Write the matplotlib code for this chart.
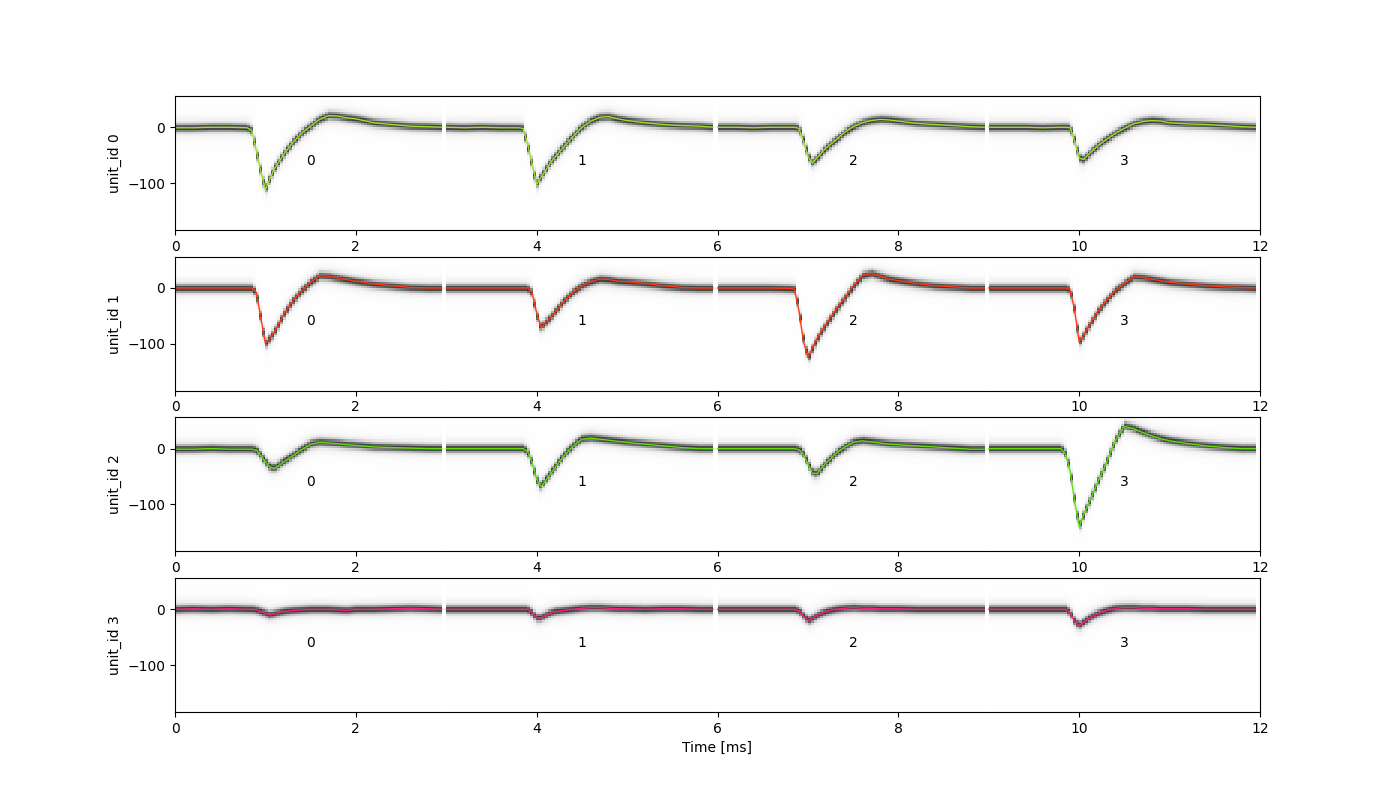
import numpy as np
import matplotlib.pyplot as plt

# sample times inside one channel snippet (ms)
times = [0, 0.2, 0.4, 0.6, 0.8, 0.85, 0.9, 0.95, 1.0, 1.05, 1.1, 1.15, 1.2,
         1.3, 1.4, 1.5, 1.6, 1.7, 1.8, 1.9, 2.0, 2.2, 2.4, 2.6, 2.8, 2.95]

unit_ids = [0, 1, 2, 3]
channel_ids = [0, 1, 2, 3]
unit_colors = ['#9be22d', '#ff3a12', '#5ee010', '#ff1f7f']

# templates in uV, one list per channel
unit0 = [
    [-1, -1, 0, 0, -1, -6, -42, -80, -112, -92, -74, -62, -49, -28, -11, 2, 14, 21, 20, 17, 15, 8, 5, 2, 1, 0],
    [0, -1, 0, -1, -1, -2, -30, -66, -102, -89, -77, -64, -54, -35, -17, 0, 11, 18, 19, 15, 12, 8, 5, 3, 2, 0],
    [0, 0, -1, 0, 0, 0, -2, -25, -52, -64, -55, -46, -37, -24, -10, 1, 8, 12, 14, 13, 11, 7, 5, 3, 1, 0],
    [0, 0, 0, -1, 0, 0, -1, -25, -55, -58, -49, -42, -34, -22, -11, -2, 6, 10, 12, 11, 8, 6, 5, 3, 1, 0],
]
unit1 = [
    [0, 0, 0, 0, 0, 0, -8, -54, -100, -90, -79, -64, -48, -24, -5, 10, 22, 21, 18, 15, 12, 7, 4, 1, 0, 0],
    [0, 0, 0, 0, 0, 0, 0, -8, -45, -71, -62, -54, -44, -24, -8, 4, 11, 16, 15, 12, 11, 8, 4, 1, 0, 0],
    [0, 0, 0, 0, -1, -2, -40, -95, -125, -107, -91, -77, -65, -41, -19, 3, 22, 26, 21, 16, 13, 8, 4, 2, 0, 0],
    [0, 0, 0, 0, 0, 0, -3, -40, -97, -84, -70, -57, -43, -23, -4, 8, 20, 19, 16, 13, 10, 7, 4, 2, 1, 0],
]
unit2 = [
    [-1, -1, 0, -1, -1, -1, -3, -12, -24, -33, -35, -30, -24, -13, -2, 8, 11, 10, 9, 7, 6, 3, 2, 1, 0, 0],
    [0, 0, 0, 0, 0, 0, -5, -25, -55, -68, -57, -46, -35, -13, 4, 17, 19, 17, 15, 13, 11, 8, 5, 2, 0, 0],
    [0, 0, 0, 0, 0, 0, -2, -10, -28, -44, -45, -35, -26, -10, 2, 11, 14, 12, 10, 8, 7, 5, 3, 1, -1, -1],
    [0, 0, 0, 0, 0, -10, -40, -95, -140, -118, -100, -81, -62, -26, 15, 40, 36, 29, 23, 18, 14, 9, 5, 2, 0, 0],
]
unit3 = [
    [0, 1, 0, 1, 0, 0, -1, -4, -7, -10, -8, -6, -4, -2, -1, 0, 0, 0, -1, -2, 0, 0, 1, 2, 1, 0],
    [0, 0, 0, 0, 0, 0, 0, -6, -15, -15, -11, -7, -4, -2, 0, 2, 3, 3, 2, 1, 1, 0, 1, 1, 0, 0],
    [0, 0, 0, 0, 0, 0, -3, -12, -20, -16, -11, -7, -4, 0, 2, 3, 2, 2, 1, 1, 1, 0, 0, 0, 0, 0],
    [0, 0, 0, 0, 0, 0, -6, -22, -29, -23, -17, -12, -8, -2, 2, 3, 3, 2, 2, 1, 1, 1, 0, 0, 0, 0],
]
templates = [unit0, unit1, unit2, unit3]

seg_len = 3.0      # ms per channel on the x axis
snip_len = 2.95    # drawn length of each snippet
bin_edges = np.arange(-184, 57, 4)
bin_centers = (bin_edges[:-1] + bin_edges[1:]) / 2
n_cols = 89
col_centers = (np.arange(n_cols) + 0.5) * snip_len / n_cols

fig, axs = plt.subplots(4, 1, figsize=(14, 8), dpi=100)

for u, ax in enumerate(axs):
    for c, ch in enumerate(channel_ids):
        x0 = c * seg_len
        tpl = templates[u][c]
        # density map of the snippet around the template
        m = np.interp(col_centers, times, tpl)
        dy = bin_centers[:, None] - m[None, :]
        dens = np.exp(-0.5 * (dy / 5) ** 2) + 0.3 * np.exp(-0.5 * (dy / 11) ** 2) + 0.015
        ax.imshow(dens, cmap='Greys', vmin=0, vmax=1.6, origin='lower', aspect='auto',
                  interpolation='nearest',
                  extent=(x0, x0 + snip_len, bin_edges[0], bin_edges[-1]))
        ax.plot(x0 + np.array(times), tpl, color=unit_colors[u], lw=1)
        ax.text(x0 + 1.5, -60, str(ch), ha='center', va='center')
    ax.set_xlim(0, 12)
    ax.set_ylim(bin_edges[0], bin_edges[-1])
    ax.set_xticks(np.arange(0, 13, 2))
    ax.set_ylabel(f'unit_id {unit_ids[u]}')

axs[-1].set_xlabel('Time [ms]')

plt.savefig('out.png')
